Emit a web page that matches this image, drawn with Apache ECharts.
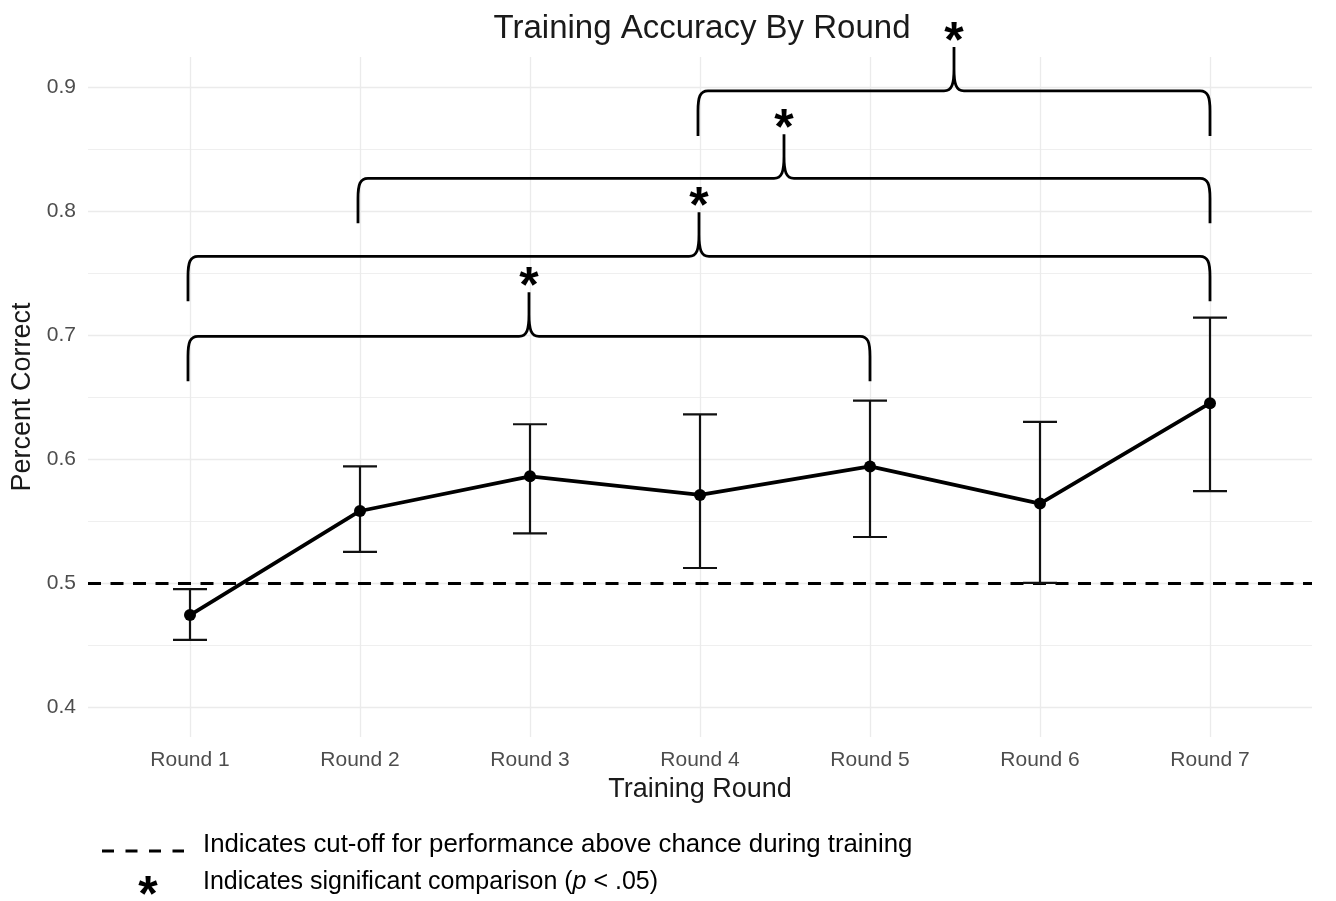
<!DOCTYPE html>
<html>
<head>
<meta charset="utf-8">
<script src="https://cdn.jsdelivr.net/npm/echarts@6/dist/echarts.min.js"></script>
<style>
  html, body { margin: 0; padding: 0; background: #ffffff; }
  #chart { width: 1336px; height: 901px; }
</style>
</head>
<body>
<div id="chart"></div>
<script>
// Training rounds and their positions on the x scale
const rounds = ['Round 1', 'Round 2', 'Round 3', 'Round 4', 'Round 5', 'Round 6', 'Round 7'];
const roundPos = [1, 2, 3, 4, 5, 6, 7];

// Mean proportion correct per round with confidence interval bounds
const meanCorrect = [0.474, 0.558, 0.586, 0.571, 0.594, 0.564, 0.645];
const ciLower = [0.454, 0.525, 0.540, 0.512, 0.537, 0.500, 0.574];
const ciUpper = [0.495, 0.594, 0.628, 0.636, 0.647, 0.630, 0.714];

// Chance-level cut-off
const chanceLevel = 0.5;

// Y axis ticks
const yTicks = [0.4, 0.5, 0.6, 0.7, 0.8, 0.9];
const yMinorTicks = [0.45, 0.55, 0.65, 0.75, 0.85];

// Significant pairwise comparisons (rounds joined by a brace, and the brace height)
const bracketFrom = [1, 1, 2, 4];
const bracketTo = [5, 7, 7, 7];
const bracketLevel = [0.699, 0.7635, 0.8265, 0.897];

const FONT = '"Liberation Sans", Arial, Helvetica, sans-serif';
const STAR_FONT = '"Liberation Sans", Arial, sans-serif';

const chart = echarts.init(document.getElementById('chart'), null, { renderer: 'canvas' });

const gridLineStyle = { color: '#ebebeb', width: 1.3, type: 'solid' };
const minorLineStyle = { color: '#efefef', width: 1.1, type: 'solid' };

const gridMarks = []
  .concat(yTicks.map(v => ({ yAxis: v, lineStyle: gridLineStyle })))
  .concat(yMinorTicks.map(v => ({ yAxis: v, lineStyle: minorLineStyle })))
  .concat(roundPos.map(v => ({ xAxis: v, lineStyle: gridLineStyle })));

const meanData = roundPos.map((p, i) => [p, meanCorrect[i]]);
const ciData = roundPos.map((p, i) => [p, ciLower[i], ciUpper[i]]);
const braceData = bracketFrom.map((f, i) => [f, bracketTo[i], bracketLevel[i]]);

// Curly brace between two rounds, pointing up at its midpoint, with a star above
function renderBrace(params, api) {
  const from = api.value(0), to = api.value(1), level = api.value(2);
  const p1 = api.coord([from, level]);
  const p2 = api.coord([to, level]);
  const x1 = p1[0] - 2, x2 = p2[0], yL = p1[1];
  const xc = (p1[0] + p2[0]) / 2 - 1;
  const drop = 45, tip = 44;
  const yE = yL + drop, yT = yL - tip;
  const d =
    'M' + x1 + ',' + yE +
    ' L' + x1 + ',' + (yL + 20) +
    ' C' + x1 + ',' + (yL + 6) + ' ' + (x1 + 2) + ',' + yL + ' ' + (x1 + 10) + ',' + yL +
    ' L' + (xc - 10) + ',' + yL +
    ' C' + (xc - 2) + ',' + yL + ' ' + xc + ',' + (yL - 7) + ' ' + xc + ',' + (yL - 22) +
    ' L' + xc + ',' + yT +
    ' M' + xc + ',' + (yL - 22) +
    ' C' + xc + ',' + (yL - 7) + ' ' + (xc + 2) + ',' + yL + ' ' + (xc + 10) + ',' + yL +
    ' L' + (x2 - 10) + ',' + yL +
    ' C' + (x2 - 2) + ',' + yL + ' ' + x2 + ',' + (yL + 6) + ' ' + x2 + ',' + (yL + 20) +
    ' L' + x2 + ',' + yE;
  return {
    type: 'group',
    children: [
      {
        type: 'path',
        shape: { pathData: d },
        style: { stroke: '#000000', fill: null, lineWidth: 2.8, lineJoin: 'round' }
      },
      {
        type: 'text',
        style: {
          text: '*',
          x: xc,
          y: yT + 21,
          align: 'center',
          verticalAlign: 'bottom',
          fontSize: 50,
          fontWeight: 'bold',
          fontFamily: STAR_FONT,
          fill: '#000000'
        }
      }
    ]
  };
}

// Confidence interval whiskers with caps
function renderErrorBar(params, api) {
  const x = api.value(0);
  const lo = api.coord([x, api.value(1)]);
  const hi = api.coord([x, api.value(2)]);
  const cap = 17;
  return {
    type: 'group',
    children: [
      { type: 'line', shape: { x1: lo[0], y1: lo[1], x2: hi[0], y2: hi[1] },
        style: { stroke: '#111111', lineWidth: 2.2 } },
      { type: 'line', shape: { x1: lo[0] - cap, y1: lo[1], x2: lo[0] + cap, y2: lo[1] },
        style: { stroke: '#111111', lineWidth: 2.2 } },
      { type: 'line', shape: { x1: hi[0] - cap, y1: hi[1], x2: hi[0] + cap, y2: hi[1] },
        style: { stroke: '#111111', lineWidth: 2.2 } }
    ]
  };
}

const option = {
  backgroundColor: '#ffffff',
  animation: false,
  title: {
    text: 'Training Accuracy By Round',
    left: 697,
    top: 7,
    textAlign: 'center',
    textStyle: { fontFamily: FONT, fontSize: 33, fontWeight: 'normal', color: '#1a1a1a' }
  },
  grid: { left: 88, right: 24, top: 57, bottom: 164, containLabel: false },
  xAxis: {
    type: 'value',
    min: 0.4,
    max: 7.6,
    name: 'Training Round',
    nameLocation: 'middle',
    nameGap: 39,
    nameTextStyle: { fontFamily: FONT, fontSize: 27, color: '#1a1a1a' },
    axisLine: { show: false },
    axisTick: { show: false, customValues: roundPos },
    splitLine: { show: false },
    axisLabel: {
      customValues: roundPos,
      formatter: v => rounds[Math.round(v) - 1] || '',
      fontFamily: FONT,
      fontSize: 21,
      color: '#4d4d4d',
      margin: 13
    }
  },
  yAxis: {
    type: 'value',
    min: 0.3756,
    max: 0.9244,
    name: 'Percent Correct',
    nameLocation: 'middle',
    nameGap: 52,
    nameTextStyle: { fontFamily: FONT, fontSize: 27, color: '#1a1a1a' },
    axisLine: { show: false },
    axisTick: { show: false, customValues: yTicks },
    splitLine: { show: false },
    axisLabel: {
      customValues: yTicks,
      formatter: v => v.toFixed(1),
      fontFamily: FONT,
      fontSize: 21,
      color: '#4d4d4d',
      margin: 12
    }
  },
  series: [
    {
      name: 'grid',
      type: 'line',
      data: meanData,
      showSymbol: false,
      lineStyle: { opacity: 0 },
      silent: true,
      z: 0,
      markLine: {
        z: 0,
        silent: true,
        symbol: ['none', 'none'],
        label: { show: false },
        emphasis: { disabled: true },
        data: gridMarks
      }
    },
    {
      name: 'chance',
      type: 'line',
      data: meanData,
      showSymbol: false,
      lineStyle: { opacity: 0 },
      silent: true,
      z: 1,
      markLine: {
        z: 1,
        silent: true,
        symbol: ['none', 'none'],
        label: { show: false },
        emphasis: { disabled: true },
        lineStyle: { color: '#000000', width: 2.8, type: [13, 9.5] },
        data: [{ yAxis: chanceLevel }]
      }
    },
    {
      name: 'ci',
      type: 'custom',
      renderItem: renderErrorBar,
      data: ciData,
      silent: true,
      z: 3
    },
    {
      name: 'mean',
      type: 'line',
      data: meanData,
      symbol: 'circle',
      symbolSize: 12,
      itemStyle: { color: '#000000' },
      lineStyle: { color: '#000000', width: 3.8 },
      silent: true,
      z: 4
    },
    {
      name: 'comparisons',
      type: 'custom',
      renderItem: renderBrace,
      data: braceData,
      clip: false,
      silent: true,
      z: 5
    }
  ],
  graphic: [
    {
      type: 'line',
      shape: { x1: 102, y1: 851, x2: 184, y2: 851 },
      style: { stroke: '#000000', lineWidth: 3, lineDash: [12, 11.5] }
    },
    {
      type: 'text',
      style: {
        text: 'Indicates cut-off for performance above chance during training',
        x: 203, y: 845,
        verticalAlign: 'middle',
        fontFamily: FONT, fontSize: 25.8, fill: '#000000'
      }
    },
    {
      type: 'text',
      style: {
        text: '*',
        x: 148, y: 922,
        align: 'center',
        verticalAlign: 'bottom',
        fontFamily: STAR_FONT, fontSize: 50, fontWeight: 'bold', fill: '#000000'
      }
    },
    {
      type: 'text',
      style: {
        text: '{n|Indicates significant comparison (}{i|p}{n| < .05)}',
        x: 203, y: 882,
        verticalAlign: 'middle',
        rich: {
          n: { fontFamily: FONT, fontSize: 25, fill: '#000000' },
          i: { fontFamily: FONT, fontSize: 25, fontStyle: 'italic', fill: '#000000' }
        }
      }
    }
  ]
};

chart.setOption(option);
</script>
</body>
</html>
